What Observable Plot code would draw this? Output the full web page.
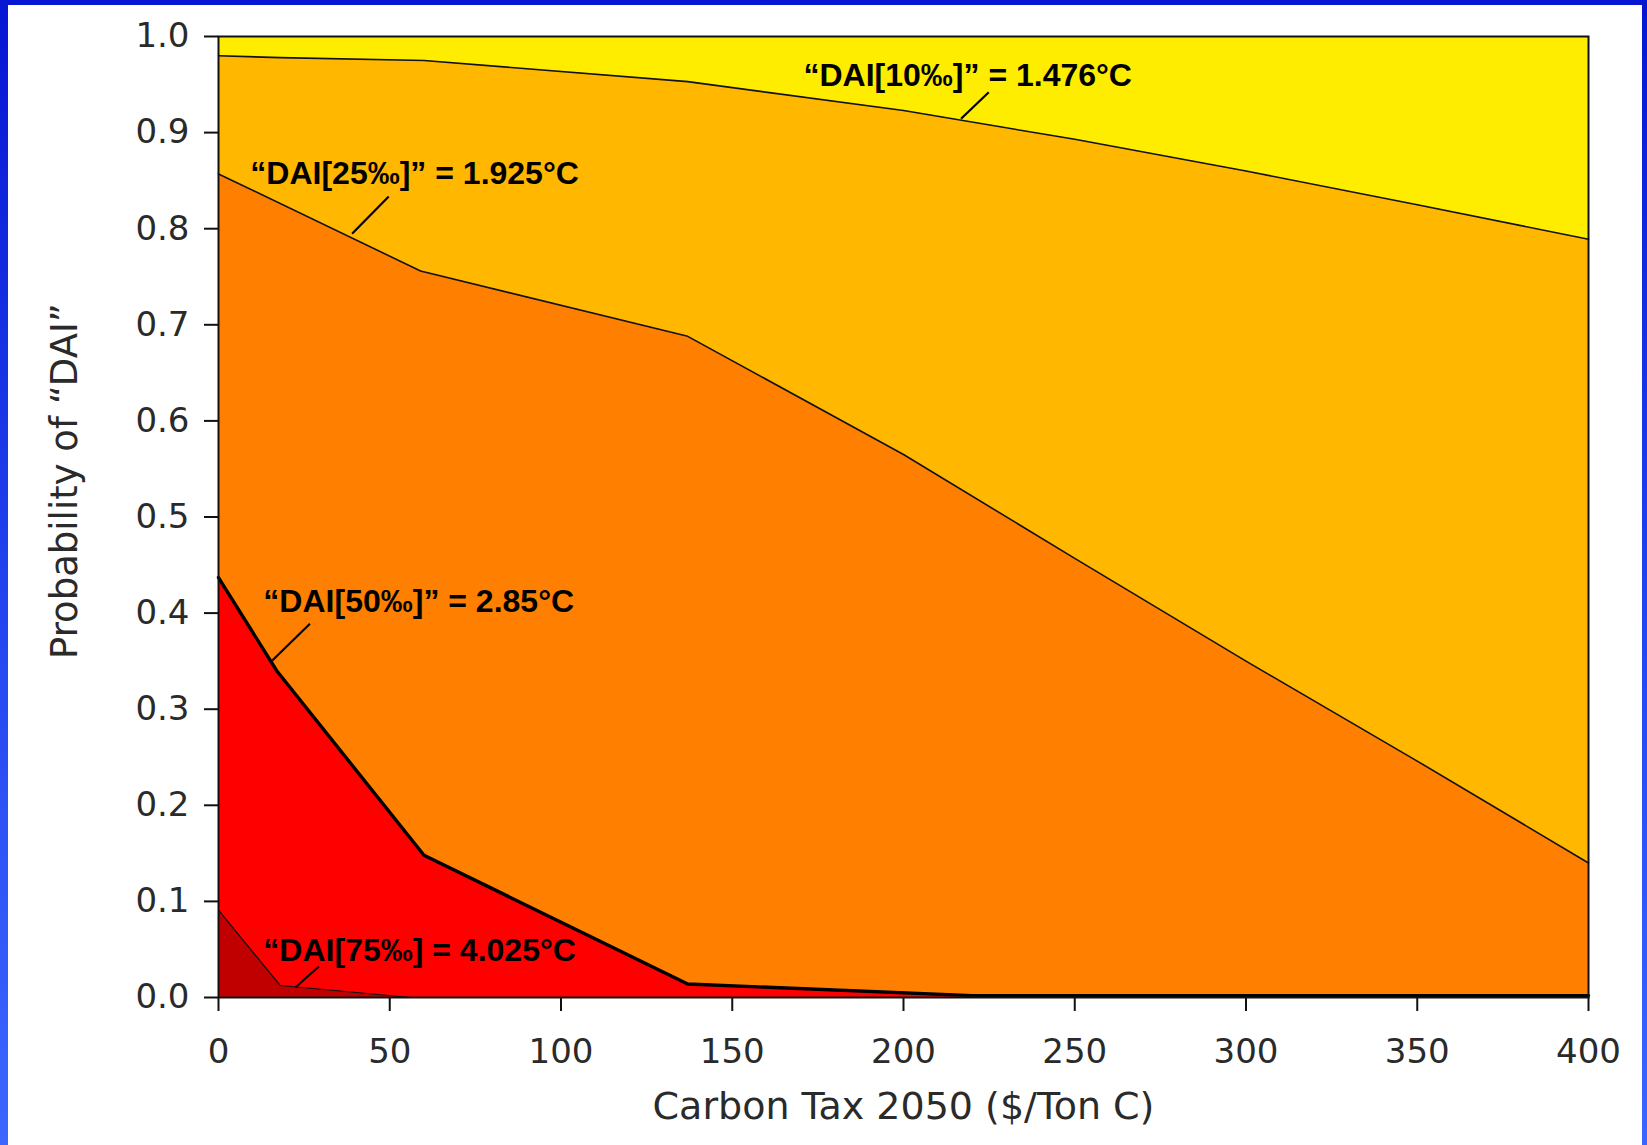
<!DOCTYPE html>
<html>
<head>
<meta charset="utf-8">
<script src="https://cdn.jsdelivr.net/npm/d3@7"></script>
<script src="https://cdn.jsdelivr.net/npm/@observablehq/plot@0.6"></script>
<style>
  html, body { margin: 0; padding: 0; }
  body {
    width: 1647px; height: 1145px; overflow: hidden; position: relative;
    background: linear-gradient(180deg, #0616d2 0%, #2446f0 55%, #3c66ff 100%);
  }
  #panel { position: absolute; left: 8px; top: 5px; width: 1634px; height: 1140px; background: #ffffff; }
  #chart { position: absolute; left: 0; top: 0; }
</style>
</head>
<body>
<div id="panel"></div>
<div id="chart"></div>
<script>
// Probability of "DAI" vs carbon tax 2050 ($/Ton C), one curve per DAI threshold
const taxes10 = [0, 18, 60, 137, 200, 250, 300, 350, 400];
const dai10   = [0.980, 0.978, 0.975, 0.953, 0.923, 0.893, 0.860, 0.825, 0.789];

const taxes25 = [0, 59, 137, 200, 250, 300, 350, 400];
const dai25   = [0.857, 0.756, 0.688, 0.565, 0.457, 0.350, 0.246, 0.140];

const taxes50 = [0, 17, 60, 137, 220, 400];
const dai50   = [0.437, 0.340, 0.148, 0.014, 0.002, 0.002];

const taxes75 = [0, 18, 56];
const dai75   = [0.091, 0.0125, 0.0];

const xTicks = [0, 50, 100, 150, 200, 250, 300, 350, 400];
const yTicks = [0, 0.1, 0.2, 0.3, 0.4, 0.5, 0.6, 0.7, 0.8, 0.9, 1.0];

const xLabel = "Carbon Tax 2050 ($/Ton C)";
const yLabel = "Probability of \u201cDAI\u201d";

// annotations (data units)
const annLabels = [
  "\u201cDAI[10\u2030]\u201d = 1.476\u00b0C",
  "\u201cDAI[25\u2030]\u201d = 1.925\u00b0C",
  "\u201cDAI[50\u2030]\u201d = 2.85\u00b0C",
  "\u201cDAI[75\u2030] = 4.025\u00b0C"
];
const annX  = [170.8, 9.3, 13.1, 13.1];
const annY  = [0.959, 0.857, 0.4115, 0.049];
const leadX1 = [224.9, 49.7, 26.7, 29.3];
const leadY1 = [0.942, 0.8335, 0.3889, 0.0323];
const leadX2 = [216.8, 39.0, 15.7, 22.5];
const leadY2 = [0.9144, 0.7947, 0.3507, 0.0107];

const colYellow = "#FFED00";
const colLightOrange = "#FFB700";
const colOrange = "#FF8000";
const colRed = "#FF0000";
const colDarkRed = "#C00000";

const series = (xs, ys) => xs.map((x, i) => ({x, y: ys[i]}));
const s10 = series(taxes10, dai10);
const s25 = series(taxes25, dai25);
const s50 = series(taxes50, dai50);
const s75 = series(taxes75, dai75);
const ann = annLabels.map((t, i) => ({t, x: annX[i], y: annY[i], x1: leadX1[i], y1: leadY1[i], x2: leadX2[i], y2: leadY2[i]}));

const plot = Plot.plot({
  width: 1647,
  height: 1145,
  marginLeft: 218,
  marginRight: 59,
  marginTop: 36,
  marginBottom: 148,
  x: {domain: [0, 400], label: null},
  y: {domain: [0, 1], label: null},
  style: {background: "transparent", fontFamily: "DejaVu Sans", color: "#222"},
  marks: [
    Plot.frame({fill: colYellow, stroke: null}),
    Plot.areaY(s10, {x: "x", y: "y", fill: colLightOrange}),
    Plot.areaY(s25, {x: "x", y: "y", fill: colOrange}),
    Plot.areaY(s50, {x: "x", y: "y", fill: colRed}),
    Plot.areaY(s75, {x: "x", y: "y", fill: colDarkRed}),
    Plot.line(s10, {x: "x", y: "y", stroke: "#111", strokeWidth: 1.6}),
    Plot.line(s25, {x: "x", y: "y", stroke: "#111", strokeWidth: 1.6}),
    Plot.line(s50, {x: "x", y: "y", stroke: "#000", strokeWidth: 3.4}),
    Plot.line(s75, {x: "x", y: "y", stroke: "#111", strokeWidth: 1.2}),
    Plot.frame({stroke: "#111", strokeWidth: 2}),
    Plot.axisX({ticks: xTicks, tickSize: 14, tickPadding: 27, fontSize: 34, strokeWidth: 2, stroke: "#111", fill: "#2a2a2a", label: null}),
    Plot.axisY({ticks: yTicks, tickSize: 14, tickPadding: 15, fontSize: 34, strokeWidth: 2, stroke: "#111", fill: "#2a2a2a", tickFormat: d3.format(".1f"), label: null}),
    Plot.text([xLabel], {frameAnchor: "bottom", dy: 109, fontSize: 38, fill: "#2a2a2a", textAnchor: "middle", lineAnchor: "middle"}),
    Plot.text([yLabel], {frameAnchor: "left", dx: -153, dy: -36, rotate: -90, fontSize: 37, fill: "#2a2a2a", textAnchor: "middle", lineAnchor: "middle"}),
    Plot.link(ann, {x1: "x1", y1: "y1", x2: "x2", y2: "y2", stroke: "#000", strokeWidth: 2.2}),
    Plot.text(ann, {x: "x", y: "y", text: "t", textAnchor: "start", lineAnchor: "middle", fontSize: 32, fontWeight: "bold", fontFamily: "Liberation Sans", fill: "#000"})
  ]
});
document.getElementById("chart").appendChild(plot);
</script>
</body>
</html>
